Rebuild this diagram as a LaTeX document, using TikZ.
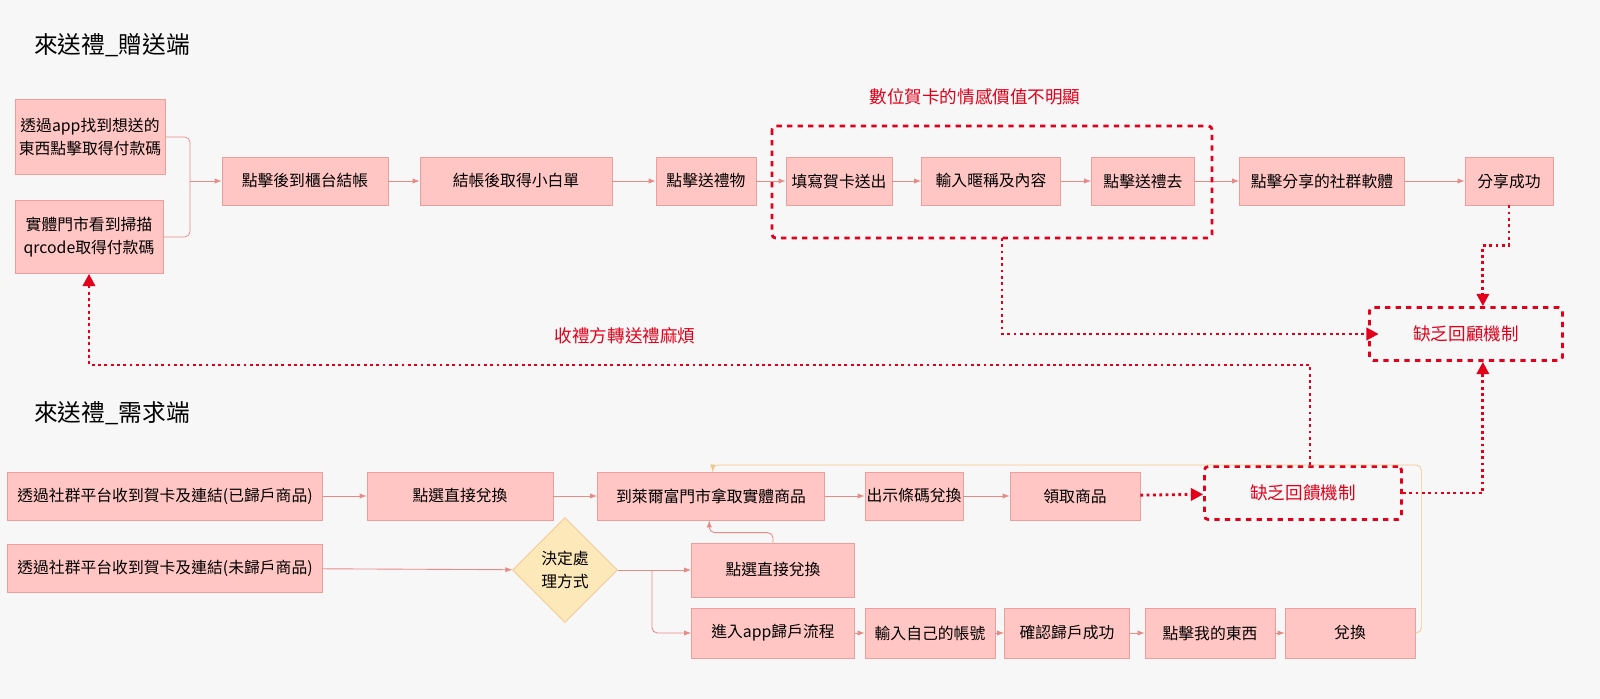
\documentclass[tikz,border=0pt]{standalone}
\usepackage{fontspec}
\setmainfont{Noto Sans CJK TC}
\usetikzlibrary{shapes.geometric, arrows.meta}
\definecolor{boxfill}{HTML}{FFC6C4}
\definecolor{boxline}{HTML}{EE9E9C}
\definecolor{flowline}{HTML}{E88A86}
\definecolor{warnred}{HTML}{E2001A}
\definecolor{loopline}{HTML}{F2C58E}
\tikzset{
  stepbox/.style={draw=boxline, fill=boxfill, font=\fontsize{9}{13}\selectfont, align=center, inner sep=0pt, minimum height=0.96cm},
  flow/.style={draw=flowline, -{Latex[length=4pt,width=3pt]}, line width=0.5pt},
  hint/.style={draw=warnred, dotted, line width=1.6pt, -{Triangle[length=7pt,width=7pt]}},
  group/.style={draw=warnred, dashed, line width=1.6pt, rounded corners=2pt},
  warn/.style={text=warnred, font=\fontsize{10}{12}\selectfont},
  title/.style={font=\fontsize{13.5}{16}\selectfont}
}
\begin{document}
\begin{tikzpicture}[x=0.02cm, y=-0.02cm]
        \fill[white!97!black] (0,0) rectangle (1600,699);
        \useasboundingbox (0,0) rectangle (1600,699);

        % Giver side
        \node [title] (t1) at (112,45) {來送禮\_贈送端};
        \node [stepbox, minimum width=3cm, minimum height=1.5cm] (a1) at (90,137) {透過app找到想送的\\東西點擊取得付款碼};
        \node [stepbox, minimum width=2.96cm, minimum height=1.46cm] (a2) at (89,237) {實體門市看到掃描\\qrcode取得付款碼};
        \node [stepbox, minimum width=3.32cm] (b1) at (305,181) {點擊後到櫃台結帳};
        \node [stepbox, minimum width=3.84cm] (b2) at (516,181) {結帳後取得小白單};
        \node [stepbox, minimum width=2cm] (b3) at (706,181) {點擊送禮物};
        \node [stepbox, minimum width=2.12cm] (b4) at (839,181) {填寫賀卡送出};
        \node [stepbox, minimum width=2.78cm] (b5) at (991,181) {輸入暱稱及內容};
        \node [stepbox, minimum width=2.06cm] (b6) at (1143,181) {點擊送禮去};
        \node [stepbox, minimum width=3.3cm] (b7) at (1322,181) {點擊分享的社群軟體};
        \node [stepbox, minimum width=1.76cm] (b8) at (1509,181) {分享成功};
        \coordinate (join) at (190,181);
        \draw [flowline, rounded corners=3pt] (a1.east) -| (join) |- (a2.east);
        \draw [flow] (join) -- (b1);
        \draw [flow] (b1) -- (b2);
        \draw [flow] (b2) -- (b3);
        \draw [flow] (b3) -- (b4);
        \draw [flow] (b4) -- (b5);
        \draw [flow] (b5) -- (b6);
        \draw [flow] (b6) -- (b7);
        \draw [flow] (b7) -- (b8);

        % Pain points, giver side
        \draw [group] (772,126) rectangle (1212,238);
        \coordinate (g1) at (1002,238);
        \node [warn] (w1) at (975,97) {數位賀卡的情感價值不明顯};
        \node [group, warn, minimum width=3.86cm, minimum height=1.06cm] (r1) at (1466,334) {缺乏回顧機制};
        \draw [hint] (b8.south) -- ++(0,40) -| ([xshift=9.6pt]r1.north);
        \draw [hint] (g1) |- ([xshift=6pt]r1.west);
        \node [warn] (w2) at (625,336) {收禮方轉送禮麻煩};

        % Receiver side
        \node [title] (t2) at (112,413) {來送禮\_需求端};
        \node [stepbox, minimum width=6.3cm] (c1) at (165,496) {透過社群平台收到賀卡及連結(已歸戶商品)};
        \node [stepbox, minimum width=3.72cm] (c2) at (460,496) {點選直接兌換};
        \node [stepbox, minimum width=4.54cm] (c3) at (711,496) {到萊爾富門市拿取實體商品};
        \node [stepbox, minimum width=1.96cm] (c4) at (914,496) {出示條碼兌換};
        \node [stepbox, minimum width=2.6cm] (c5) at (1075,496) {領取商品};
        \node [group, warn, minimum width=3.94cm, minimum height=1.06cm] (c6) at (1303,493) {缺乏回饋機制};
        \node [stepbox, minimum width=6.3cm] (d1) at (165,568) {透過社群平台收到賀卡及連結(未歸戶商品)};
        \node [diamond, draw=loopline, fill=yellow!35!orange!25, font=\fontsize{9}{13}\selectfont, align=center, minimum width=2.1cm, minimum height=2.1cm, inner sep=0pt] (dec) at (565,570) {決定處\\理方式};
        \node [stepbox, minimum width=3.26cm, minimum height=1.08cm] (e1) at (773,570) {點選直接兌換};
        \node [stepbox, minimum width=3.26cm, minimum height=1cm] (f1) at (773,633) {進入app歸戶流程};
        \node [stepbox, minimum width=2.6cm, minimum height=1cm] (f2) at (930,633) {輸入自己的帳號};
        \node [stepbox, minimum width=2.5cm, minimum height=1cm] (f3) at (1067,633) {確認歸戶成功};
        \node [stepbox, minimum width=2.6cm, minimum height=1cm] (f4) at (1210,633) {點擊我的東西};
        \node [stepbox, minimum width=2.6cm, minimum height=1cm] (f5) at (1350,633) {兌換};
        \draw [flow] (c1) -- (c2);
        \draw [flow] (c2) -- (c3);
        \draw [flow] (c3) -- (c4);
        \draw [flow] (c4) -- (c5);
        \draw [flow] (d1) -- (dec);
        \coordinate (fork) at (652,570);
        \draw [flowline] (dec.east) -- (fork);
        \draw [flow] (fork) -- (e1);
        \draw [flow, rounded corners=3pt] (fork) |- (f1);
        \draw [flow, rounded corners=3pt] (e1.north) -- ++(0,-10) -| ([xshift=-1pt]c3.south);
        \draw [flow] (f1) -- (f2);
        \draw [flow] (f2) -- (f3);
        \draw [flow] (f3) -- (f4);
        \draw [flow] (f4) -- (f5);
        \draw [draw=loopline, -{Latex[length=4pt,width=3pt]}, rounded corners=3pt] (f5.east) -- ++(6,0) |- (1000,465) -| ([xshift=1pt]c3.north);

        % Pain points, receiver side
        \draw [hint] (c5) -- (c6);
        \draw [hint] (c6.east) -| ([xshift=9.6pt]r1.south);
        \draw [hint] ([xshift=4pt]c6.north) |- (1310,365) -| (a2.south);
\end{tikzpicture}
\end{document}
